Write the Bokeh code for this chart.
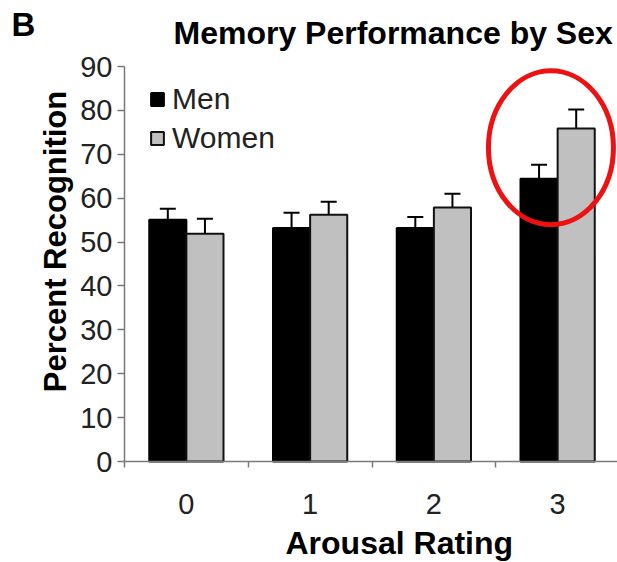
import math
from bokeh.plotting import figure
from bokeh.models import (ColumnDataSource, Range1d, FixedTicker, Whisker, TeeHead,
                          Label, Legend, LegendItem)
from bokeh.embed import file_html
from bokeh.resources import INLINE

# ---- data ----
categories = [0, 1, 2, 3]
men = [55.1, 53.2, 53.2, 64.4]
women = [51.9, 56.2, 57.9, 75.9]
men_err = [2.5, 3.5, 2.5, 3.2]
women_err = [3.4, 3.0, 3.1, 4.3]
y_ticks = [0, 10, 20, 30, 40, 50, 60, 70, 80, 90]
series_names = ["Men", "Women"]
title_text = "Memory Performance by Sex"
panel_letter = "B"
x_title = "Arousal Rating"
y_title = "Percent Recognition"
highlight_category = 3

# ---- style / geometry ----
FONT = "Liberation Sans"
BAR_W = 0.3
OFF = 0.15
AXIS_COL = "#7a7a7a"
TXT_COL = "#222222"
W, H = 617, 562
AX_LEFT_PX, AX_BOTTOM_PX, AX_TOP_PX = 124, 461, 66
CAT_PX = 123.75
Y_TOP = 90
PX_PER_Y = (AX_BOTTOM_PX - AX_TOP_PX) / Y_TOP


def dx(px):
    return -0.5 + (px - AX_LEFT_PX) / CAT_PX


def dy(py):
    return (AX_BOTTOM_PX - py) / PX_PER_Y


p = figure(width=W, height=H,
           x_range=Range1d(dx(0), dx(W)), y_range=Range1d(dy(H), dy(0)),
           output_backend="svg", toolbar_location=None,
           min_border_left=0, min_border_top=0,
           min_border_right=0, min_border_bottom=0)
p.title.visible = False
p.outline_line_color = None
p.xgrid.visible = False
p.ygrid.visible = False
p.background_fill_color = "white"
p.border_fill_color = "white"

men_src = ColumnDataSource(dict(
    x=[c - OFF for c in categories], top=men,
    upper=[v + e for v, e in zip(men, men_err)]))
wom_src = ColumnDataSource(dict(
    x=[c + OFF for c in categories], top=women,
    upper=[v + e for v, e in zip(women, women_err)]))

r_men = p.vbar(x="x", top="top", bottom=0, width=BAR_W, source=men_src,
               fill_color="black", line_color="black", line_width=2)
r_wom = p.vbar(x="x", top="top", bottom=0, width=BAR_W, source=wom_src,
               fill_color="#c0c0c0", line_color="#111111", line_width=2)

for src in (men_src, wom_src):
    w = Whisker(source=src, base="x", lower="top", upper="upper",
                dimension="height", line_color="black", line_width=2,
                lower_head=None,
                upper_head=TeeHead(size=16, line_width=2, line_color="black"))
    p.add_layout(w)

# highlight ellipse around the last category
hx = highlight_category - 0.054
hy = (men[highlight_category] + women[highlight_category] + women_err[highlight_category]) / 2 - 0.8
p.ellipse(x=[hx], y=[hy], width=1.01, height=35.1, fill_color=None,
          line_color="#ee1111", line_width=5)

# ---- axes (fixed inside the full-canvas frame) ----
xax = p.xaxis[0]
xax.fixed_location = 0
xax.bounds = (categories[0] - 0.5, categories[-1] + 0.5)
xax.ticker = FixedTicker(ticks=categories,
                         minor_ticks=[c - 0.5 for c in categories] + [categories[-1] + 0.5])
xax.major_tick_out = 0
xax.major_tick_in = 0
xax.minor_tick_out = 6
xax.minor_tick_in = 0
xax.minor_tick_line_color = AXIS_COL
xax.minor_tick_line_width = 1.5
xax.axis_line_color = AXIS_COL
xax.axis_line_width = 1.5
xax.major_label_text_font = FONT
xax.major_label_text_font_size = "29px"
xax.major_label_text_color = TXT_COL
xax.major_label_standoff = 26

yax = p.yaxis[0]
yax.fixed_location = categories[0] - 0.5
yax.bounds = (y_ticks[0], y_ticks[-1])
yax.ticker = FixedTicker(ticks=y_ticks)
yax.major_tick_out = 7
yax.major_tick_in = 0
yax.minor_tick_line_color = None
yax.major_tick_line_color = AXIS_COL
yax.major_tick_line_width = 1.5
yax.axis_line_color = AXIS_COL
yax.axis_line_width = 1.5
yax.major_label_text_font = FONT
yax.major_label_text_font_size = "29px"
yax.major_label_text_color = TXT_COL
yax.major_label_standoff = 5

# ---- series legend ----
legend = Legend(items=[LegendItem(label=series_names[0], renderers=[r_men]),
                       LegendItem(label=series_names[1], renderers=[r_wom])],
                location=(149, 407), orientation="vertical",
                glyph_width=16, glyph_height=16, label_height=33,
                label_standoff=7, spacing=5, padding=0, margin=0,
                border_line_color=None, background_fill_alpha=0,
                label_text_font=FONT, label_text_font_size="30px",
                label_text_color=TXT_COL)
p.add_layout(legend)

# ---- texts ----
def bold_label(text, px, py, size, align="left", angle=0.0):
    return Label(x=dx(px), y=dy(py), text=text, angle=angle,
                 text_font=FONT, text_font_size=size, text_font_style="bold",
                 text_align=align, text_baseline="alphabetic",
                 text_color="black")

p.add_layout(bold_label(title_text, 173, 32, "32px"))
p.add_layout(bold_label(panel_letter, 11, 24, "33px"))
p.add_layout(bold_label(x_title, 285, 542, "32px"))
p.add_layout(bold_label(y_title, 55, 241, "31px", align="center", angle=math.pi / 2))

open("out.html", "w").write(file_html(p, INLINE))
